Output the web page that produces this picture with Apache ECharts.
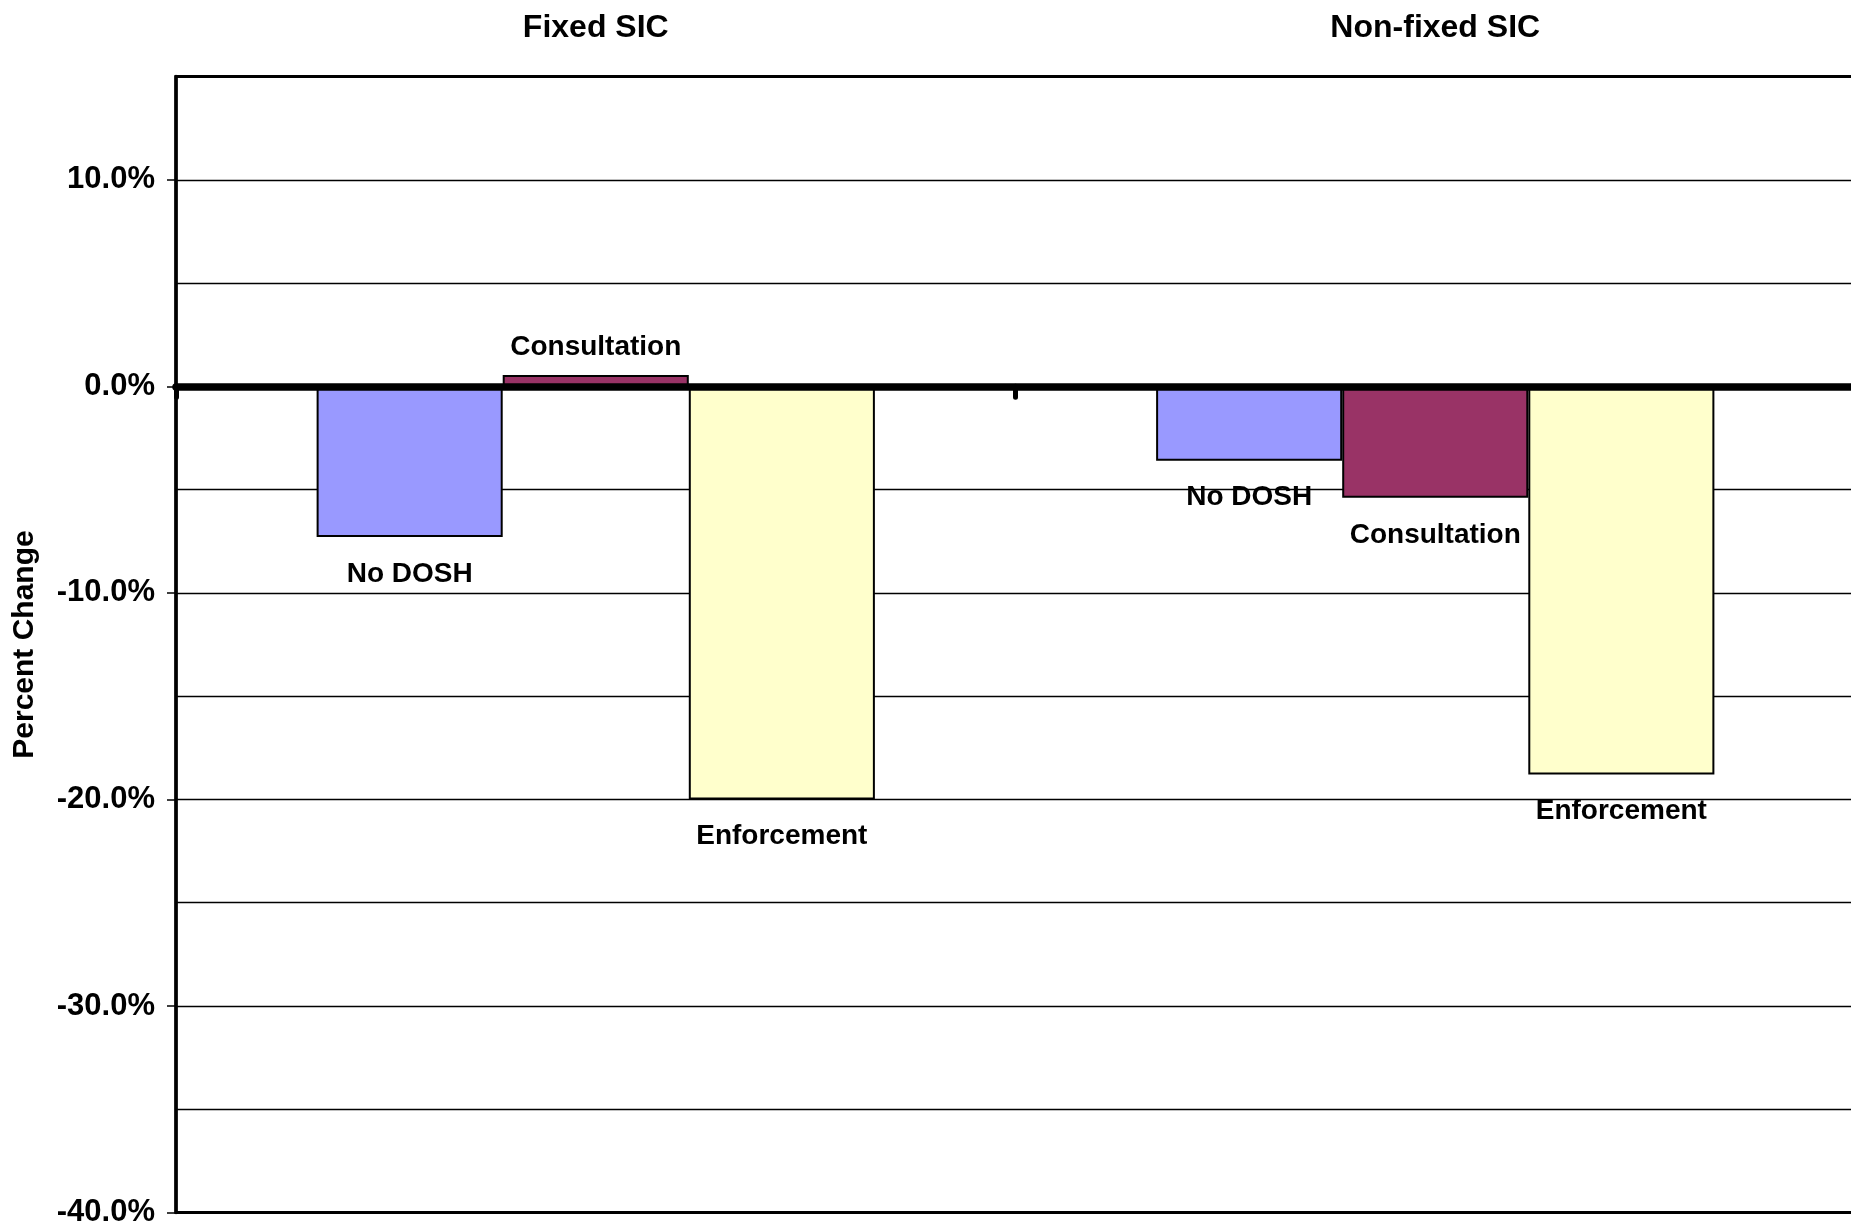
<!DOCTYPE html>
<html><head><meta charset="utf-8">
<script src="https://cdn.jsdelivr.net/npm/echarts@6/dist/echarts.min.js"></script>
<style>html,body{margin:0;padding:0;background:#fff;}#chart{width:1851px;height:1230px;}</style>
</head><body><div id="chart"></div>
<script>
const categories = ['Fixed SIC', 'Non-fixed SIC'];
const seriesNames = ['No DOSH', 'Consultation', 'Enforcement'];
const noDosh = [-7.3, -3.6];
const consultation = [0.55, -5.4];
const enforcement = [-20.0, -18.8];
const tickValues = [-40, -30, -20, -10, 0, 10];
const yMin = -40, yMax = 15, gridStep = 5;
const colors = ['#9999FF', '#993366', '#FFFFCC'];
const FONT = "'Liberation Sans', Arial, sans-serif";

function makeData(vals) {
  return vals.map(v => ({
    value: v,
    label: { position: v >= 0 ? 'top' : 'bottom', distance: v >= 0 ? 14 : 23 }
  }));
}
const seriesValues = [noDosh, consultation, enforcement];

const chart = echarts.init(document.getElementById('chart'), null, { renderer: 'canvas' });
chart.setOption({
  animation: false,
  backgroundColor: '#fff',
  grid: {
    left: 176, top: 76.5, right: -4, bottom: 17.5,
    show: true, borderColor: '#000', borderWidth: 3, backgroundColor: 'transparent',
    outerBoundsMode: 'none'
  },
  xAxis: [
    {
      type: 'category', data: categories, position: 'bottom', z: 5,
      axisLine: { onZero: true, lineStyle: { color: '#000', width: 7.5 } },
      axisTick: { show: true, length: 11, lineStyle: { color: '#000', width: 5, cap: 'round' } },
      axisLabel: { show: false },
      splitLine: { show: false }
    },
    {
      type: 'category', data: categories, position: 'top',
      axisLine: { show: false, onZero: false },
      axisTick: { show: false },
      axisLabel: { fontSize: 32, fontWeight: 'bold', color: '#000', margin: 32, fontFamily: FONT },
      splitLine: { show: false }
    }
  ],
  yAxis: [
    {
      type: 'value', min: yMin, max: yMax, interval: gridStep, position: 'left',
      axisLine: { show: true, lineStyle: { color: '#000', width: 3.5 } },
      axisTick: { show: true, customValues: tickValues, length: 9, lineStyle: { color: '#000', width: 1.5 } },
      axisLabel: {
        customValues: tickValues,
        formatter: v => v.toFixed(1) + '%',
        fontSize: 31, fontWeight: 'bold', color: '#000', margin: 21, fontFamily: FONT,
        padding: [8, 0, 0, 0]
      },
      splitLine: { show: false },
      name: 'Percent Change', nameLocation: 'middle', nameGap: 136, nameRotate: 90,
      nameTextStyle: { fontSize: 30, fontWeight: 'bold', color: '#000', fontFamily: FONT }
    },
    {
      type: 'value', min: yMin, max: yMax, interval: gridStep, position: 'left',
      axisLine: { show: false }, axisTick: { show: false }, axisLabel: { show: false },
      splitLine: { show: true, lineStyle: { color: '#000', width: 1.3 } }
    }
  ],
  series: seriesNames.map((name, i) => ({
    type: 'bar', name: name, xAxisIndex: 0, yAxisIndex: 0,
    data: makeData(seriesValues[i]),
    barGap: '0%', barCategoryGap: '33.5%',
    itemStyle: { color: colors[i], borderColor: '#000', borderWidth: 2 },
    label: { show: true, formatter: '{a}', fontSize: 28, fontWeight: 'bold', color: '#000', fontFamily: FONT }
  }))
});
</script></body></html>
